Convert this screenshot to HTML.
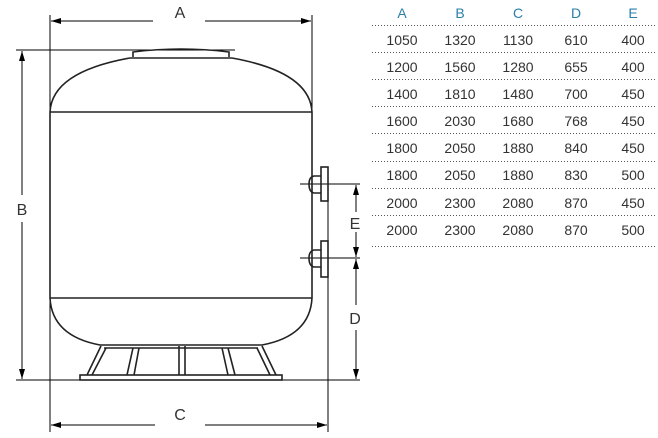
<!DOCTYPE html>
<html><head><style>
html,body{margin:0;padding:0;background:#fff;}
svg{display:block;}
.t{font-family:"Liberation Sans",sans-serif;font-size:14px;fill:#333;}
.h{font-family:"Liberation Sans",sans-serif;font-size:14px;fill:#2a7fa8;}
.l{font-family:"Liberation Sans",sans-serif;font-size:16px;fill:#333;}
</style></head><body>
<svg width="658" height="438" viewBox="0 0 658 438" xmlns="http://www.w3.org/2000/svg">
<defs>
<marker id="ar" viewBox="0 0 10 6" refX="10" refY="3" markerWidth="10" markerHeight="6" orient="auto-start-reverse" markerUnits="userSpaceOnUse"><path d="M0,0 L10,3 L0,6 z" fill="#000"/></marker>
</defs>
<g stroke="#000" fill="none" stroke-width="1">
<line x1="50" y1="15" x2="50" y2="112"/>
<line x1="312" y1="15" x2="312" y2="112"/>
<line x1="51" y1="21" x2="153" y2="21" marker-start="url(#ar)"/>
<line x1="205" y1="21" x2="311" y2="21" marker-end="url(#ar)"/>
<line x1="16" y1="50" x2="235" y2="50"/>
<line x1="16" y1="380" x2="360" y2="380"/>
<line x1="22" y1="51" x2="22" y2="195" marker-start="url(#ar)"/>
<line x1="22" y1="222" x2="22" y2="379" marker-end="url(#ar)"/>
<line x1="50" y1="298" x2="50" y2="432"/>
<line x1="328" y1="200" x2="328" y2="432"/>
<line x1="51" y1="425" x2="155" y2="425" marker-start="url(#ar)"/>
<line x1="205" y1="425" x2="327" y2="425" marker-end="url(#ar)"/>
<line x1="300" y1="184" x2="360" y2="184"/>
<line x1="300" y1="258" x2="360" y2="258"/>
<line x1="356" y1="185" x2="356" y2="212" marker-start="url(#ar)"/>
<line x1="356" y1="232" x2="356" y2="257" marker-end="url(#ar)"/>
<line x1="356" y1="259" x2="356" y2="305" marker-start="url(#ar)"/>
<line x1="356" y1="330" x2="356" y2="379" marker-end="url(#ar)"/>
</g>
<g stroke="#222" fill="none" stroke-width="1.6">
<path d="M50,112 Q52,72 130,58 M232,58 Q310,72 312,112"/>
<line x1="130" y1="58" x2="232" y2="58"/>
<path d="M133,57 L133,52 Q181,46 229,52 L229,57"/>
<line x1="50" y1="112" x2="312" y2="112"/>
<line x1="50" y1="112" x2="50" y2="298"/>
<line x1="312" y1="112" x2="312" y2="298"/>
<line x1="50" y1="298" x2="312" y2="298"/>
<path d="M50,298 Q52,336 100,345 L262,345 Q310,336 312,298"/>
<path d="M321,176 L314,176 Q309,177 309,184 Q309,192 314,193 L321,193"/>
<rect x="321" y="167" width="7" height="34"/>
<path d="M321,250 L314,250 Q309,251 309,258 Q309,266 314,267 L321,267"/>
<rect x="321" y="241" width="7" height="36"/>
<line x1="104" y1="348" x2="258" y2="348"/>
<rect x="80" y="375" width="202" height="5"/>
<line x1="101" y1="346" x2="87" y2="375"/><line x1="106" y1="348" x2="92" y2="375"/>
<line x1="133" y1="348" x2="127" y2="375"/><line x1="139" y1="348" x2="134" y2="375"/>
<line x1="179" y1="346" x2="179" y2="375"/><line x1="185" y1="346" x2="185" y2="375"/>
<line x1="222" y1="348" x2="228" y2="375"/><line x1="228" y1="348" x2="235" y2="375"/>
<line x1="257" y1="348" x2="270" y2="375"/><line x1="262" y1="346" x2="276" y2="375"/>
</g>
<text class="l" x="180" y="18" text-anchor="middle">A</text>
<text class="l" x="22" y="215" text-anchor="middle">B</text>
<text class="l" x="180" y="420" text-anchor="middle">C</text>
<text class="l" x="355" y="229" text-anchor="middle">E</text>
<text class="l" x="355" y="324" text-anchor="middle">D</text>
<g stroke="#555" stroke-width="1" stroke-dasharray="1,2">
<line x1="372" y1="25.5" x2="656" y2="25.5"/>
<line x1="372" y1="52.5" x2="656" y2="52.5"/>
<line x1="372" y1="79.5" x2="656" y2="79.5"/>
<line x1="372" y1="106.5" x2="656" y2="106.5"/>
<line x1="372" y1="133.5" x2="656" y2="133.5"/>
<line x1="372" y1="161.5" x2="656" y2="161.5"/>
<line x1="372" y1="188.5" x2="656" y2="188.5"/>
<line x1="372" y1="215.5" x2="656" y2="215.5"/>
<line x1="372" y1="246.5" x2="656" y2="246.5"/>
</g>
<g text-anchor="middle">
<text class="h" x="402" y="18">A</text><text class="h" x="460" y="18">B</text><text class="h" x="518" y="18">C</text><text class="h" x="576" y="18">D</text><text class="h" x="633" y="18">E</text>
<text class="t" x="402" y="45">1050</text><text class="t" x="460" y="45">1320</text><text class="t" x="518" y="45">1130</text><text class="t" x="576" y="45">610</text><text class="t" x="633" y="45">400</text>
<text class="t" x="402" y="72">1200</text><text class="t" x="460" y="72">1560</text><text class="t" x="518" y="72">1280</text><text class="t" x="576" y="72">655</text><text class="t" x="633" y="72">400</text>
<text class="t" x="402" y="99">1400</text><text class="t" x="460" y="99">1810</text><text class="t" x="518" y="99">1480</text><text class="t" x="576" y="99">700</text><text class="t" x="633" y="99">450</text>
<text class="t" x="402" y="126">1600</text><text class="t" x="460" y="126">2030</text><text class="t" x="518" y="126">1680</text><text class="t" x="576" y="126">768</text><text class="t" x="633" y="126">450</text>
<text class="t" x="402" y="153">1800</text><text class="t" x="460" y="153">2050</text><text class="t" x="518" y="153">1880</text><text class="t" x="576" y="153">840</text><text class="t" x="633" y="153">450</text>
<text class="t" x="402" y="180">1800</text><text class="t" x="460" y="180">2050</text><text class="t" x="518" y="180">1880</text><text class="t" x="576" y="180">830</text><text class="t" x="633" y="180">500</text>
<text class="t" x="402" y="208">2000</text><text class="t" x="460" y="208">2300</text><text class="t" x="518" y="208">2080</text><text class="t" x="576" y="208">870</text><text class="t" x="633" y="208">450</text>
<text class="t" x="402" y="235">2000</text><text class="t" x="460" y="235">2300</text><text class="t" x="518" y="235">2080</text><text class="t" x="576" y="235">870</text><text class="t" x="633" y="235">500</text>
</g>
</svg>
</body></html>
